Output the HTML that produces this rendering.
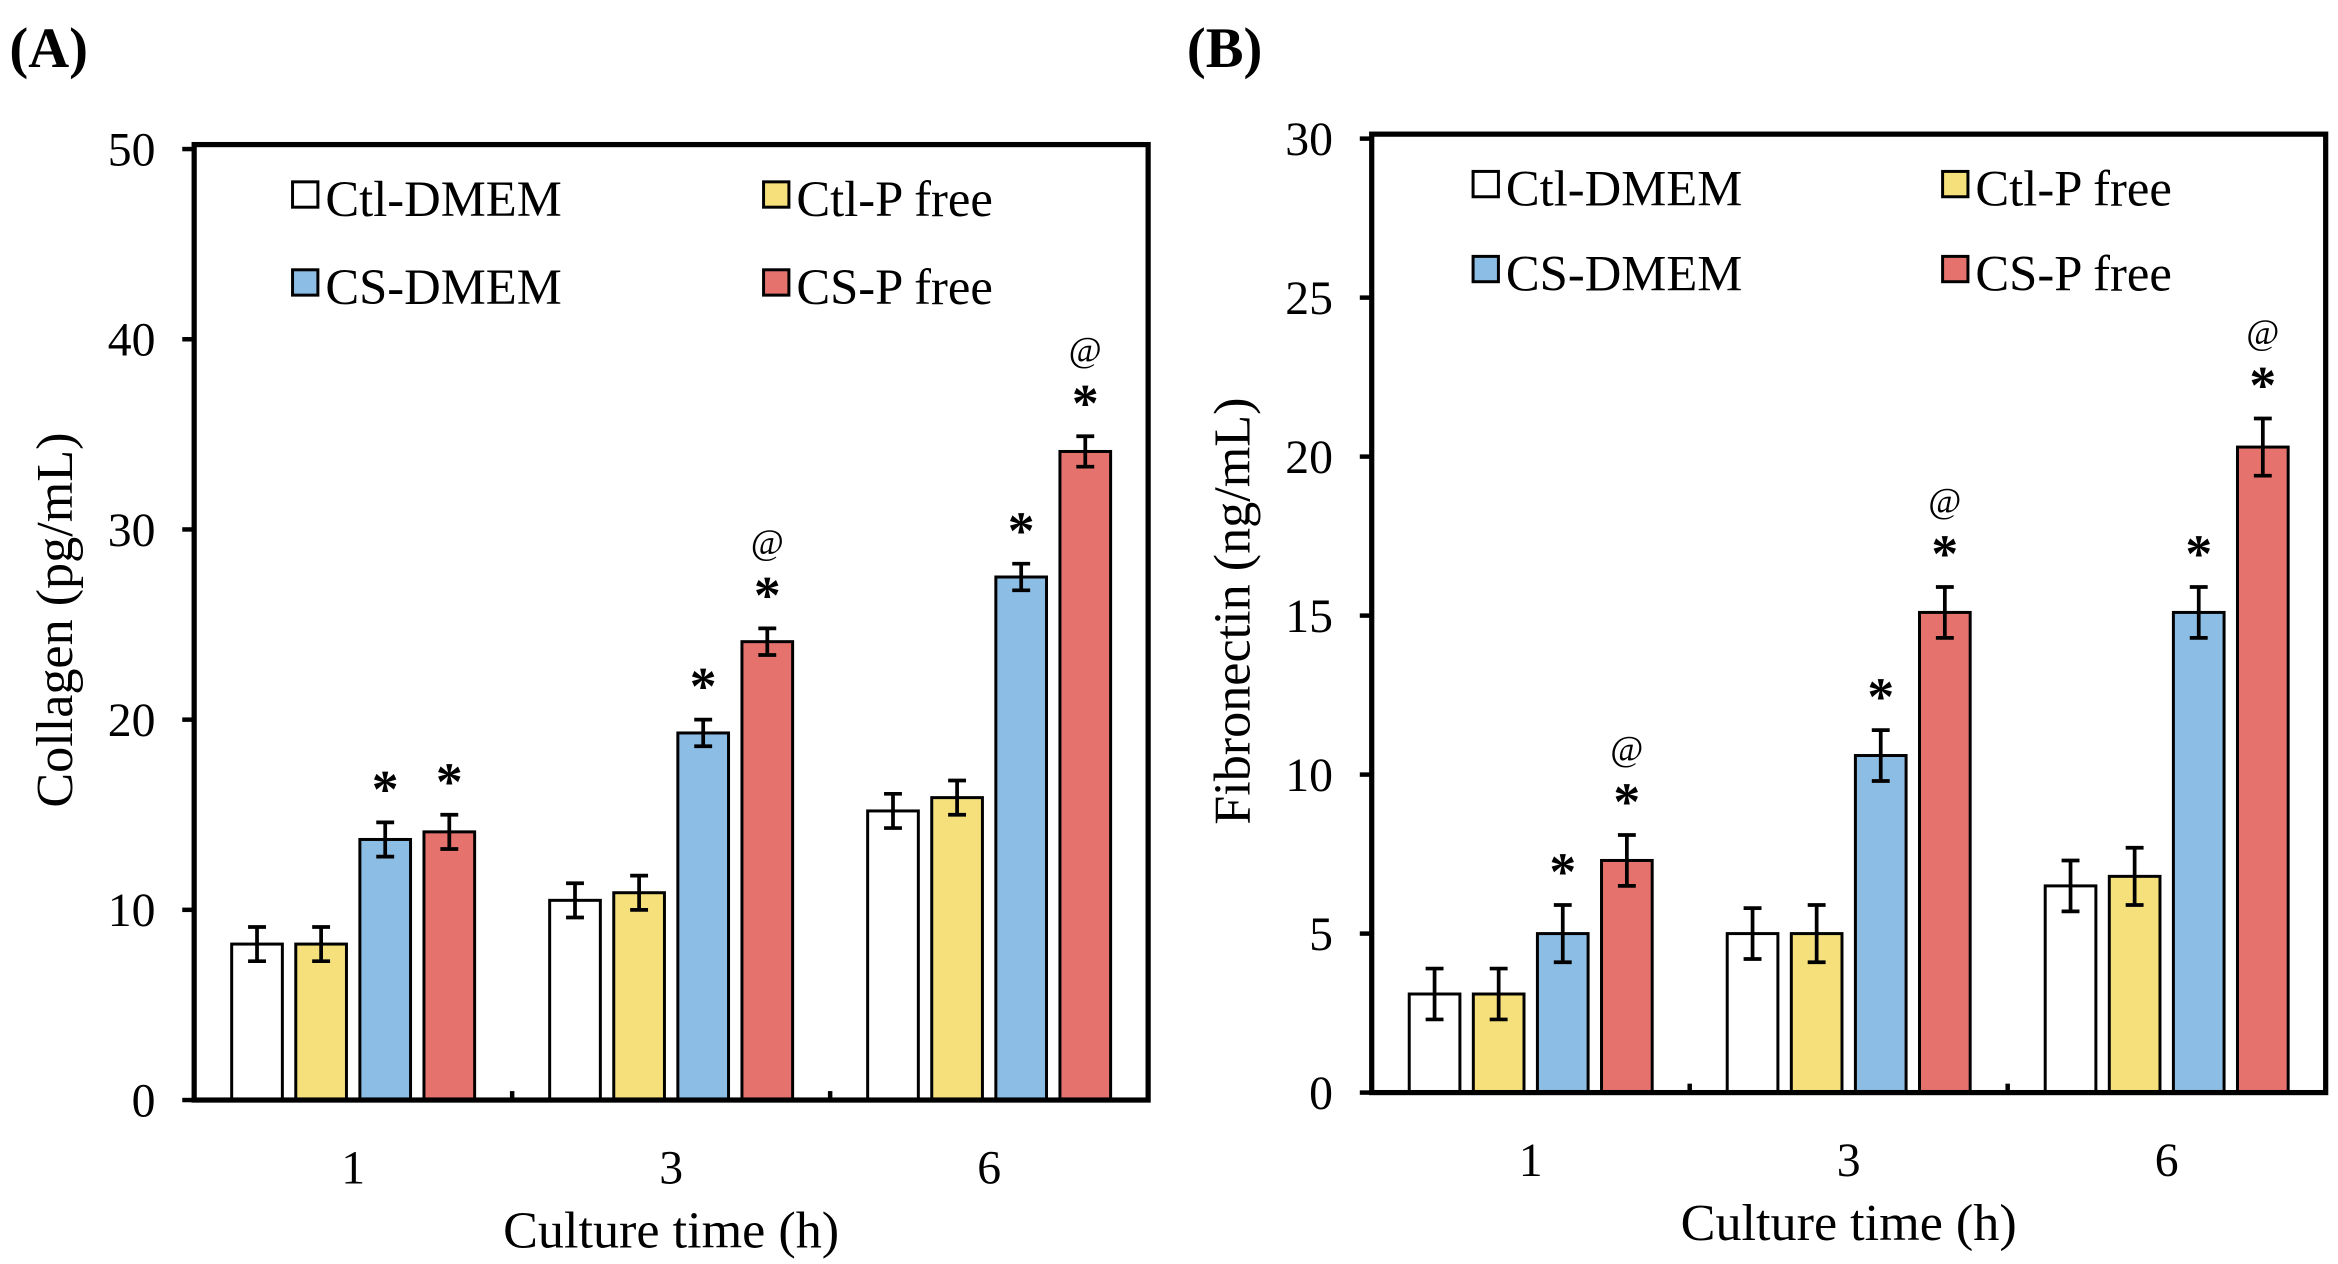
<!DOCTYPE html>
<html><head><meta charset="utf-8"><style>
html,body{margin:0;padding:0;background:#fff;}
svg{display:block;font-family:"Liberation Serif",serif;}
</style></head><body>
<svg id="chart" width="2338" height="1264" viewBox="0 0 1568 848" xmlns="http://www.w3.org/2000/svg"></svg>
<script>
const categories = ["1","3","6"];
const seriesNames = ["Ctl-DMEM","Ctl-P free","CS-DMEM","CS-P free"];
const seriesColors = ["#ffffff","#f6e07c","#8cbde4","#e5726c"];
const collagenCtlDMEM = [8.2,10.5,15.2];
const collagenCtlPfree = [8.2,10.9,15.9];
const collagenCSDMEM = [13.7,19.3,27.5];
const collagenCSPfree = [14.1,24.1,34.1];
const collagenErr = [[0.9,0.9,0.9],[0.9,0.9,0.9],[0.9,0.7,0.7],[0.9,0.7,0.8]];
const collagenMarks = [["","","*","*"],["","","*","*@"],["","","*","*@"]];
const collagenTicks = [0,10,20,30,40,50];
const fnCtlDMEM = [3.1,5.0,6.5];
const fnCtlPfree = [3.1,5.0,6.8];
const fnCSDMEM = [5.0,10.6,15.1];
const fnCSPfree = [7.3,15.1,20.3];
const fnErr = [[0.8,0.8,0.8],[0.8,0.9,0.9],[0.9,0.8,0.8],[0.8,0.8,0.9]];
const fnMarks = [["","","*","*@"],["","","*","*@"],["","","*","*@"]];
const fnTicks = [0,5,10,15,20,25,30];

const svg = document.getElementById('chart');
const NS = "http://www.w3.org/2000/svg";
function mk(tag, attrs, parent, text){
  const e = document.createElementNS(NS, tag);
  for (const k in attrs) e.setAttribute(k, attrs[k]);
  if (text !== undefined) e.textContent = text;
  (parent || svg).appendChild(e);
  return e;
}

function panel(p){
  const g = mk('g', {});
  
  
  const yS = v => p.y0 - (v - 0) / p.max * (p.y0 - p.yTop);
  const groupW = (p.x1 - p.x0) / categories.length;
  const xC = i => p.x0 + groupW * (i + 0.5);
  const bw = 34, step = 43;
  for (let s = 0; s < 4; s++){
    for (let i = 0; i < categories.length; i++){
      const v = p.data[s][i];
      const cx = xC(i) + (s - 1.5) * step;
      const r = mk('rect', {x: cx - bw/2, y: yS(v), width: bw, height: p.y0 - yS(v), fill: seriesColors[s], stroke: '#000', 'stroke-width': 2}, g);
      
      
      const e = p.err[s][i];
      const eb = mk('path', {d: `M${cx},${yS(v+e)}V${yS(v-e)}M${cx-6},${yS(v+e)}H${cx+6}M${cx-6},${yS(v-e)}H${cx+6}`, stroke: '#000', 'stroke-width': 2.5, fill: 'none'}, g);
      
      
      const m = p.marks[i][s];
      if (m.includes('*')){
        const t = mk('text', {x: cx, y: yS(v+e) - 10, 'text-anchor': 'middle', 'font-size': 36, 'font-weight': 'bold'}, g, '*');
        
        
      }
      if (m.includes('@')){
        const t = mk('text', {x: cx, y: yS(v+e) - 50, 'text-anchor': 'middle', 'font-size': 24}, g, '@');
        
        
      }
    }
  }
  const f = mk('rect', {x: p.x0, y: p.yTop - 3, width: p.x1 - p.x0, height: p.y0 - p.yTop + 3, fill: 'none', stroke: '#000', 'stroke-width': 3.5}, g);
  
  
  p.ticks.forEach(t => {
    mk('line', {x1: p.x0 - 8, x2: p.x0, y1: yS(t), y2: yS(t), stroke: '#000', 'stroke-width': 3}, g);
    const tl = mk('text', {x: p.x0 - 26, y: yS(t) + 11, 'text-anchor': 'end', 'font-size': 32}, g, String(t));
    
    
  });
  for (let i = 1; i < categories.length; i++){
    const x = p.x0 + groupW * i;
    mk('line', {x1: x, x2: x, y1: p.y0 - 6, y2: p.y0, stroke: '#000', 'stroke-width': 3}, g);
  }
  categories.forEach((c, i) => {
    const tl = mk('text', {x: xC(i), y: p.y0 + 56, 'text-anchor': 'middle', 'font-size': 32}, g, c);
    
    
  });
  const xt = mk('text', {x: (p.x0 + p.x1)/2 - 0, y: p.y0 + 99, 'text-anchor': 'middle', 'font-size': 35}, g, 'Culture time (h)');
  
  
  const yt = mk('text', {x: 0, y: 0, 'text-anchor': 'middle', 'font-size': 35, transform: `translate(${p.x0 - 82},${(p.y0 + p.yTop)/2 - 3}) rotate(-90)`}, g, p.ytitle);
  
  
  const pl = mk('text', {x: p.labelX, y: 45, 'font-size': 38, 'font-weight': 'bold'}, g, p.label);
  
  
  for (let s = 0; s < 4; s++){
    const lx = p.legX[s % 2], ly = p.legY[Math.floor(s / 2)];
    const lg = mk('g', {}, g);
    
    
    mk('rect', {x: lx, y: ly, width: 17, height: 17, fill: seriesColors[s], stroke: '#000', 'stroke-width': 2}, lg);
    mk('text', {x: lx + 22, y: ly + 23, 'font-size': 34}, lg, seriesNames[s]);
  }
}

panel({name:'panel-a-collagen', x0:130, x1:770, y0:738, yTop:100, max:50, ticks:collagenTicks,
  data:[collagenCtlDMEM,collagenCtlPfree,collagenCSDMEM,collagenCSPfree], err:collagenErr, marks:collagenMarks,
  ytitle:'Collagen (pg/mL)', label:'(A)', labelX:6, legX:[196,512], legY:[122,181]});
panel({name:'panel-b-fibronectin', x0:920, x1:1560, y0:733, yTop:93, max:30, ticks:fnTicks,
  data:[fnCtlDMEM,fnCtlPfree,fnCSDMEM,fnCSPfree], err:fnErr, marks:fnMarks,
  ytitle:'Fibronectin (ng/mL)', label:'(B)', labelX:796, legX:[988,1303], legY:[115,172]});
</script>
</body></html>
